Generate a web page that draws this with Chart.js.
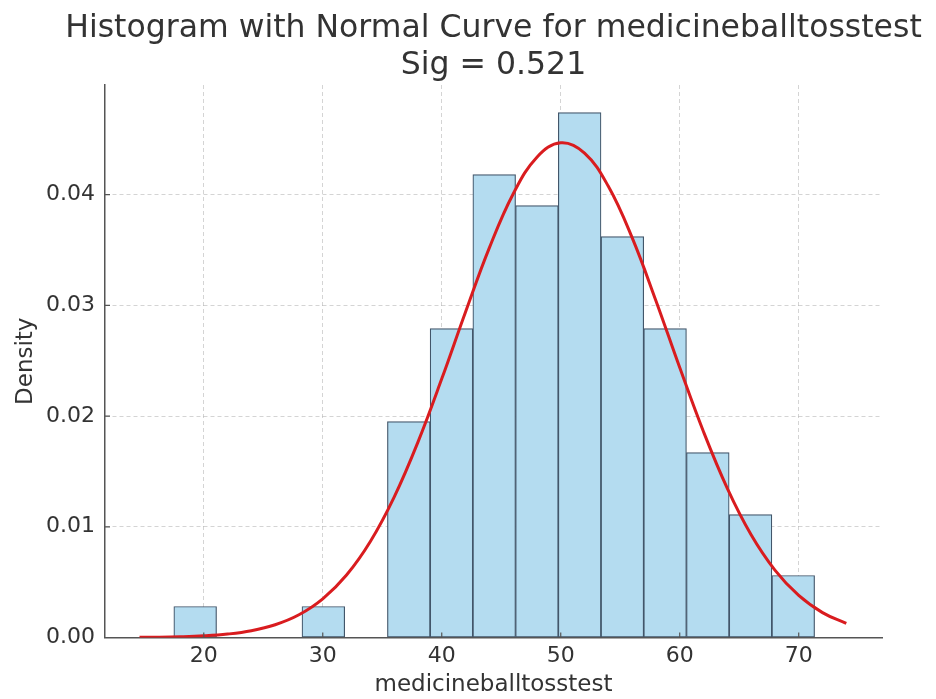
<!DOCTYPE html>
<html>
<head>
<meta charset="utf-8">
<script src="https://cdn.jsdelivr.net/npm/chart.js@4/dist/chart.umd.min.js"></script>
<style>
  html, body { margin: 0; padding: 0; background: #fff; }
  #wrap { width: 936px; height: 699px; }
</style>
</head>
<body>
<div id="wrap"><canvas id="histChart" width="936" height="699"></canvas></div>
<script>
// histogram bins (centers) and density heights
const binCenters = [19.28, 22.87, 26.46, 30.05, 33.64, 37.23, 40.82, 44.41, 48.0, 51.59, 55.18, 58.77, 62.36, 65.95, 69.54];
const densities = [0.0028, null, null, 0.0028, null, 0.0195, 0.0279, 0.0418, 0.039, 0.0474, 0.0362, 0.0279, 0.0167, 0.0111, 0.0056];

// normal curve
const curveX = [14.6, 16, 18, 20, 22, 24, 26, 28, 30, 32, 34, 36, 38, 40, 42, 44, 46, 48, 50, 52, 54, 56, 58, 60, 62, 64, 66, 68, 70, 72, 74];
const curveY = [0.00002, 0.00003, 0.00007, 0.00015, 0.00031, 0.00061, 0.00115, 0.00205, 0.00349, 0.00564, 0.00867, 0.01268, 0.01765, 0.02336, 0.0294, 0.03519, 0.04006, 0.04338, 0.04468, 0.04375, 0.04075, 0.03611, 0.03042, 0.02438, 0.01858, 0.01347, 0.00928, 0.00609, 0.0038, 0.00225, 0.00127];

const xTicks = [20, 30, 40, 50, 60, 70];
const yTicks = [0, 0.01, 0.02, 0.03, 0.04];
const titleLines = ["Histogram with Normal Curve for medicineballtosstest", "Sig = 0.521"];

const FONT = "'DejaVu Sans', sans-serif";
const TEXT = "#333333";
const SPINE = "#555555";

function keepTicks(list) {
  return function (scale) {
    scale.ticks = list.map(function (v) { return { value: v }; });
  };
}

// small inward tick marks, matplotlib style
const innerTicks = {
  id: "innerTicks",
  afterDatasetsDraw: function (chart) {
    const c = chart.ctx;
    const xs = chart.scales.x;
    const ys = chart.scales.y;
    const area = chart.chartArea;
    c.save();
    c.strokeStyle = SPINE;
    c.lineWidth = 1.2;
    c.beginPath();
    xTicks.forEach(function (v) {
      const px = xs.getPixelForValue(v);
      c.moveTo(px, area.bottom);
      c.lineTo(px, area.bottom - 5);
    });
    yTicks.forEach(function (v) {
      const py = ys.getPixelForValue(v);
      c.moveTo(area.left, py);
      c.lineTo(area.left + 5, py);
    });
    c.stroke();
    c.restore();
  },
};

// title centred over the plot area (the built-in one squeezes the long line)
const axesTitle = {
  id: "axesTitle",
  afterDraw: function (chart) {
    const c = chart.ctx;
    const area = chart.chartArea;
    const cx = (area.left + area.right) / 2;
    c.save();
    c.fillStyle = TEXT;
    c.font = "31.5px " + FONT;
    c.textAlign = "center";
    c.textBaseline = "middle";
    c.fillText(titleLines[0], cx, 28.5);
    c.fillText(titleLines[1], cx, 65.5);
    c.restore();
  },
};

var ctx = document.getElementById("histChart").getContext("2d");
var histChart = new Chart(ctx, {
  type: "bar",
  data: {
    datasets: [
      {
        type: "line",
        data: curveX.map(function (x, i) { return { x: x, y: curveY[i] }; }),
        borderColor: "#d91c1f",
        borderWidth: 3,
        pointRadius: 0,
        tension: 0.4,
        fill: false,
        order: 0,
      },
      {
        type: "bar",
        data: binCenters.map(function (x, i) { return { x: x, y: densities[i] }; }),
        backgroundColor: "#b4dcf0",
        borderColor: "#42566a",
        borderWidth: 1.2,
        borderSkipped: false,
        barPercentage: 1,
        categoryPercentage: 1,
        order: 1,
      },
    ],
  },
  options: {
    responsive: false,
    animation: false,
    layout: {
      padding: { left: 0, right: 54, top: 85, bottom: 0 },
    },
    scales: {
      x: {
        type: "linear",
        min: 11.7,
        max: 77.0,
        offset: false,
        afterBuildTicks: keepTicks(xTicks),
        afterFit: function (scale) { scale.height = 61.5; },
        grid: {
          color: "rgba(0,0,0,0.17)",
          lineWidth: 1,
          offset: false,
          drawTicks: false,
        },
        border: { display: true, color: SPINE, width: 1.5, dash: [4, 3] },
        ticks: {
          color: TEXT,
          font: { family: FONT, size: 22 },
          padding: 6,
          maxRotation: 0,
          callback: function (v) { return String(v); },
        },
        title: {
          display: true,
          text: "medicineballtosstest",
          color: TEXT,
          font: { family: FONT, size: 23 },
          padding: { top: 0, bottom: 0 },
        },
      },
      y: {
        min: 0,
        max: 0.0499,
        afterBuildTicks: keepTicks(yTicks),
        afterFit: function (scale) { scale.width = 105; },
        grid: {
          color: "rgba(0,0,0,0.17)",
          lineWidth: 1,
          drawTicks: false,
        },
        border: { display: true, color: SPINE, width: 1.5, dash: [4, 3] },
        ticks: {
          color: TEXT,
          font: { family: FONT, size: 22 },
          padding: 10,
          callback: function (v) { return v.toFixed(2); },
        },
        title: {
          display: true,
          text: "Density",
          color: TEXT,
          font: { family: FONT, size: 23 },
          padding: { top: 12, bottom: 0 },
        },
      },
    },
    plugins: {
      legend: { display: false },
      tooltip: { enabled: false },
      title: { display: false },
    },
  },
  plugins: [innerTicks, axesTitle],
});
</script>
</body>
</html>
